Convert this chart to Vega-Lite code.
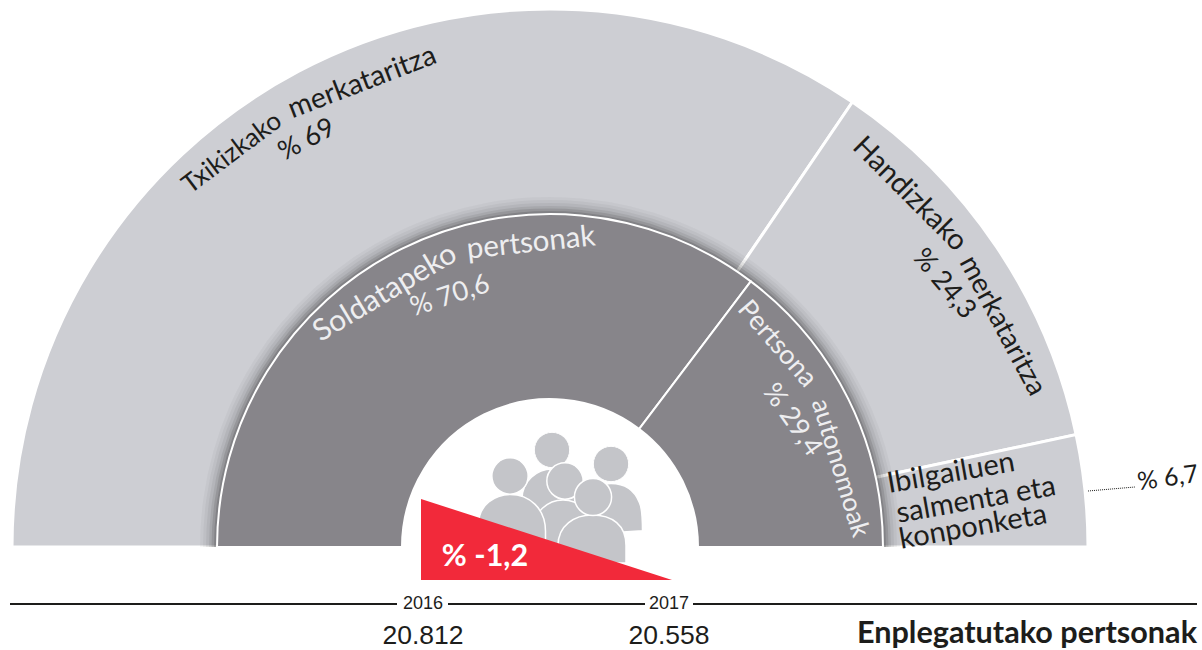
{"$schema":"https://vega.github.io/schema/vega-lite/v6.json","width":1202,"height":650,"padding":0,"autosize":"none","background":"white","view":{"stroke":null},
"resolve":{"scale":{"x":"independent","y":"independent"}},
"config":{"axis":{"disable":true},"style":{
"dk":{"font":"Lato","fontSize":27,"align":"center","baseline":"middle"},
"lt":{"font":"Lato","fontSize":27,"align":"center","baseline":"middle"},
"ins":{"font":"Lato","fontSize":29,"align":"center","baseline":"middle"},
"yr":{"font":"Liberation Sans","fontSize":18,"align":"center","baseline":"middle"},
"num":{"font":"Liberation Sans","fontSize":26.5,"align":"center","baseline":"middle"}}},
"datasets":{"sectors":[{"ring":"Jarduera","label":"Txikizkako merkataritza","pct":69,"ord":1},{"ring":"Jarduera","label":"Handizkako merkataritza","pct":24.3,"ord":2},{"ring":"Jarduera","label":"Ibilgailuen salmenta eta konponketa","pct":6.7,"ord":3},{"ring":"Enplegua","label":"Soldatapeko pertsonak","pct":70.6,"ord":1},{"ring":"Enplegua","label":"Pertsona autonomoak","pct":29.4,"ord":2}]},
"data":{"name":"sectors"},
"transform":[{"stack":"pct","groupby":["ring"],"sort":[{"field":"ord"}],"as":["t0","t1"]}],
"layer":[
{"transform":[{"filter":"datum.ring==='Jarduera'"}],"mark":{"type":"arc","radius":538,"radius2":300,"fill":"#cdced3","stroke":"white","strokeWidth":3},"encoding":{"x":{"datum":550,"scale":{"domain":[0,1202]}},"y":{"datum":547,"scale":{"domain":[650,0]}},"theta":{"field":"t0","type":"quantitative","scale":{"domain":[0,100],"range":[-1.5708,1.5708]}},"theta2":{"field":"t1"}}},
{"transform":[{"filter":"datum.ring==='Enplegua'"}],"mark":{"type":"arc","radius":350,"radius2":148,"fill":"#000","opacity":0.03},"encoding":{"x":{"datum":550,"scale":{"domain":[0,1202]}},"y":{"datum":547,"scale":{"domain":[650,0]}},"theta":{"field":"t0","type":"quantitative","scale":{"domain":[0,100],"range":[-1.5708,1.5708]}},"theta2":{"field":"t1"}}},
{"transform":[{"filter":"datum.ring==='Enplegua'"}],"mark":{"type":"arc","radius":347,"radius2":148,"fill":"#000","opacity":0.04},"encoding":{"x":{"datum":550,"scale":{"domain":[0,1202]}},"y":{"datum":547,"scale":{"domain":[650,0]}},"theta":{"field":"t0","type":"quantitative","scale":{"domain":[0,100],"range":[-1.5708,1.5708]}},"theta2":{"field":"t1"}}},
{"transform":[{"filter":"datum.ring==='Enplegua'"}],"mark":{"type":"arc","radius":344,"radius2":148,"fill":"#000","opacity":0.05},"encoding":{"x":{"datum":550,"scale":{"domain":[0,1202]}},"y":{"datum":547,"scale":{"domain":[650,0]}},"theta":{"field":"t0","type":"quantitative","scale":{"domain":[0,100],"range":[-1.5708,1.5708]}},"theta2":{"field":"t1"}}},
{"transform":[{"filter":"datum.ring==='Enplegua'"}],"mark":{"type":"arc","radius":341,"radius2":148,"fill":"#000","opacity":0.07},"encoding":{"x":{"datum":550,"scale":{"domain":[0,1202]}},"y":{"datum":547,"scale":{"domain":[650,0]}},"theta":{"field":"t0","type":"quantitative","scale":{"domain":[0,100],"range":[-1.5708,1.5708]}},"theta2":{"field":"t1"}}},
{"transform":[{"filter":"datum.ring==='Enplegua'"}],"mark":{"type":"arc","radius":338.5,"radius2":148,"fill":"#000","opacity":0.1},"encoding":{"x":{"datum":550,"scale":{"domain":[0,1202]}},"y":{"datum":547,"scale":{"domain":[650,0]}},"theta":{"field":"t0","type":"quantitative","scale":{"domain":[0,100],"range":[-1.5708,1.5708]}},"theta2":{"field":"t1"}}},
{"transform":[{"filter":"datum.ring==='Enplegua'"}],"mark":{"type":"arc","radius":336,"radius2":148,"fill":"#000","opacity":0.13},"encoding":{"x":{"datum":550,"scale":{"domain":[0,1202]}},"y":{"datum":547,"scale":{"domain":[650,0]}},"theta":{"field":"t0","type":"quantitative","scale":{"domain":[0,100],"range":[-1.5708,1.5708]}},"theta2":{"field":"t1"}}},
{"transform":[{"filter":"datum.ring==='Enplegua'"}],"mark":{"type":"arc","radius":333,"radius2":148,"fill":"#87858a","stroke":"white","strokeWidth":2},"encoding":{"x":{"datum":550,"scale":{"domain":[0,1202]}},"y":{"datum":547,"scale":{"domain":[650,0]}},"theta":{"field":"t0","type":"quantitative","scale":{"domain":[0,100],"range":[-1.5708,1.5708]}},"theta2":{"field":"t1"}}},

{"data":{"values":[{"p":"a"}]},"transform":[],"mark":{"type":"point","filled":true,"opacity":1,"fill":"#c4c5c9","stroke":"white","strokeWidth":1.5,"size":3600,"shape":"M-1,1 L-1,0 C-1,-0.6 -0.5,-1 0,-1 C0.5,-1 1,-0.6 1,0 L1,1 Z"},"encoding":{"x":{"datum":552,"scale":{"domain":[0,1202]}},"y":{"datum":499,"scale":{"domain":[650,0]}}}},
{"data":{"values":[{"p":"a"}]},"transform":[],"mark":{"type":"point","filled":true,"opacity":1,"fill":"#c4c5c9","stroke":"white","strokeWidth":1,"size":1250},"encoding":{"x":{"datum":552,"scale":{"domain":[0,1202]}},"y":{"datum":450,"scale":{"domain":[650,0]}}}},
{"data":{"values":[{"p":"b"}]},"transform":[],"mark":{"type":"point","filled":true,"opacity":1,"fill":"#c4c5c9","stroke":"white","strokeWidth":1.5,"size":3969,"shape":"M-1,0.5 C-1,0.7 -0.8,0.5 -0.6,0.6 L1,0.5 C1,0.4 1,-0.2 0.9,-0.4 C0.7,-0.9 0.3,-1 0,-1 C-0.5,-1 -1,-0.6 -1,0 Z"},"encoding":{"x":{"datum":611,"scale":{"domain":[0,1202]}},"y":{"datum":515,"scale":{"domain":[650,0]}}}},
{"data":{"values":[{"p":"b"}]},"transform":[],"mark":{"type":"point","filled":true,"opacity":1,"fill":"#c4c5c9","stroke":"white","strokeWidth":1,"size":1250},"encoding":{"x":{"datum":611,"scale":{"domain":[0,1202]}},"y":{"datum":464,"scale":{"domain":[650,0]}}}},
{"data":{"values":[{"p":"d"}]},"transform":[],"mark":{"type":"point","filled":true,"opacity":1,"fill":"#c4c5c9","stroke":"white","strokeWidth":1.5,"size":3600,"shape":"M-1,1 L-1,0 C-1,-0.6 -0.5,-1 0,-1 C0.5,-1 1,-0.6 1,0 L1,1 Z"},"encoding":{"x":{"datum":563,"scale":{"domain":[0,1202]}},"y":{"datum":530,"scale":{"domain":[650,0]}}}},
{"data":{"values":[{"p":"d"}]},"transform":[],"mark":{"type":"point","filled":true,"opacity":1,"fill":"#c4c5c9","stroke":"white","strokeWidth":1.5,"size":1320},"encoding":{"x":{"datum":565,"scale":{"domain":[0,1202]}},"y":{"datum":481,"scale":{"domain":[650,0]}}}},
{"data":{"values":[{"p":"c"}]},"transform":[],"mark":{"type":"point","filled":true,"opacity":1,"fill":"#c4c5c9","stroke":"white","strokeWidth":1.5,"size":4489,"shape":"M-1,1 L-1,-0.1 C-1,-0.7 -0.5,-1 -0.05,-1 C0.5,-1 1,-0.6 1,0.1 L1,1 Z"},"encoding":{"x":{"datum":512,"scale":{"domain":[0,1202]}},"y":{"datum":528,"scale":{"domain":[650,0]}}}},
{"data":{"values":[{"p":"c"}]},"transform":[],"mark":{"type":"point","filled":true,"opacity":1,"fill":"#c4c5c9","stroke":"white","strokeWidth":1.5,"size":1320},"encoding":{"x":{"datum":510,"scale":{"domain":[0,1202]}},"y":{"datum":476,"scale":{"domain":[650,0]}}}},
{"data":{"values":[{"p":"e"}]},"transform":[],"mark":{"type":"point","filled":true,"opacity":1,"fill":"#c4c5c9","stroke":"white","strokeWidth":1.5,"size":4624,"shape":"M-1,0.41 L-1,-0.1 C-1,-0.7 -0.5,-1 0,-1 C0.6,-1 1,-0.7 1,-0.1 L1,0.41 Z"},"encoding":{"x":{"datum":592,"scale":{"domain":[0,1202]}},"y":{"datum":549,"scale":{"domain":[650,0]}}}},
{"data":{"values":[{"p":"e"}]},"transform":[],"mark":{"type":"point","filled":true,"opacity":1,"fill":"#c4c5c9","stroke":"white","strokeWidth":1.5,"size":1380},"encoding":{"x":{"datum":593,"scale":{"domain":[0,1202]}},"y":{"datum":497,"scale":{"domain":[650,0]}}}},

{"data":{"values":[{"urtea":2016,"enplegatuak":20812},{"urtea":2017,"enplegatuak":20558}]},"transform":[],"mark":{"type":"area","fill":"#f2293a","opacity":1,"interpolate":"linear"},"encoding":{"x":{"field":"urtea","type":"quantitative","scale":{"domain":[2016,2017],"range":[421,672]}},"y":{"field":"enplegatuak","type":"quantitative","stack":null,"scale":{"domain":[20558,20812],"range":[580,499]}},"y2":{"datum":20558}}},

{"data":{"values":[{"seg":"a"}]},"transform":[],"mark":{"type":"rule","stroke":"#1d1d1b","strokeWidth":2},"encoding":{"x":{"datum":10,"scale":{"domain":[0,1202]}},"x2":{"datum":397},"y":{"datum":604,"scale":{"domain":[650,0]}}}},
{"data":{"values":[{"seg":"b"}]},"transform":[],"mark":{"type":"rule","stroke":"#1d1d1b","strokeWidth":2},"encoding":{"x":{"datum":448,"scale":{"domain":[0,1202]}},"x2":{"datum":645},"y":{"datum":604,"scale":{"domain":[650,0]}}}},
{"data":{"values":[{"seg":"c"}]},"transform":[],"mark":{"type":"rule","stroke":"#1d1d1b","strokeWidth":2},"encoding":{"x":{"datum":693,"scale":{"domain":[0,1202]}},"x2":{"datum":1197},"y":{"datum":604,"scale":{"domain":[650,0]}}}},
{"data":{"values":[{"seg":"d"}]},"transform":[],"mark":{"type":"rule","stroke":"#1d1d1b","strokeWidth":1,"strokeDash":[1,1]},"encoding":{"x":{"datum":1088,"scale":{"domain":[0,1202]}},"x2":{"datum":1135},"y":{"datum":491,"scale":{"domain":[650,0]}},"y2":{"datum":487}}},

{"data":{"values":[{"t":"Txikizkako"}]},"transform":[],"mark":{"type":"text","style":"dk","fill":"#1d1d1b","fontSize":26,"angle":-37},"encoding":{"x":{"datum":232,"scale":{"domain":[0,1202]}},"y":{"datum":153,"scale":{"domain":[650,0]}},"text":{"field":"t"}}},
{"data":{"values":[{"t":"merkataritza"}]},"transform":[],"mark":{"type":"text","style":"dk","fill":"#1d1d1b","fontSize":28.5,"angle":-21},"encoding":{"x":{"datum":362,"scale":{"domain":[0,1202]}},"y":{"datum":82,"scale":{"domain":[650,0]}},"text":{"field":"t"}}},
{"data":{"values":[{"t":"% 69"}]},"transform":[],"mark":{"type":"text","style":"dk","fill":"#1d1d1b","angle":-28},"encoding":{"x":{"datum":307,"scale":{"domain":[0,1202]}},"y":{"datum":140,"scale":{"domain":[650,0]}},"text":{"field":"t"}}},
{"data":{"values":[{"t":"Handizkako"}]},"transform":[],"mark":{"type":"text","style":"dk","fill":"#1d1d1b","fontSize":29,"angle":45},"encoding":{"x":{"datum":910,"scale":{"domain":[0,1202]}},"y":{"datum":194,"scale":{"domain":[650,0]}},"text":{"field":"t"}}},
{"data":{"values":[{"t":"merkataritza"}]},"transform":[],"mark":{"type":"text","style":"dk","fill":"#1d1d1b","fontSize":28,"angle":62},"encoding":{"x":{"datum":1002,"scale":{"domain":[0,1202]}},"y":{"datum":326,"scale":{"domain":[650,0]}},"text":{"field":"t"}}},
{"data":{"values":[{"t":"% 24,3"}]},"transform":[],"mark":{"type":"text","style":"dk","fill":"#1d1d1b","angle":50},"encoding":{"x":{"datum":944,"scale":{"domain":[0,1202]}},"y":{"datum":284,"scale":{"domain":[650,0]}},"text":{"field":"t"}}},
{"data":{"values":[{"t":"Ibilgailuen"}]},"transform":[],"mark":{"type":"text","style":"ins","fill":"#1d1d1b","angle":-10},"encoding":{"x":{"datum":951,"scale":{"domain":[0,1202]}},"y":{"datum":473,"scale":{"domain":[650,0]}},"text":{"field":"t"}}},
{"data":{"values":[{"t":"salmenta eta"}]},"transform":[],"mark":{"type":"text","style":"ins","fill":"#1d1d1b","angle":-10},"encoding":{"x":{"datum":976,"scale":{"domain":[0,1202]}},"y":{"datum":500,"scale":{"domain":[650,0]}},"text":{"field":"t"}}},
{"data":{"values":[{"t":"konponketa"}]},"transform":[],"mark":{"type":"text","style":"ins","fill":"#1d1d1b","angle":-10},"encoding":{"x":{"datum":973,"scale":{"domain":[0,1202]}},"y":{"datum":527,"scale":{"domain":[650,0]}},"text":{"field":"t"}}},
{"data":{"values":[{"t":"% 6,7"}]},"transform":[],"mark":{"type":"text","style":"ins","fill":"#1d1d1b","fontSize":25,"angle":-8},"encoding":{"x":{"datum":1168,"scale":{"domain":[0,1202]}},"y":{"datum":478,"scale":{"domain":[650,0]}},"text":{"field":"t"}}},
{"data":{"values":[{"t":"Soldatapeko"}]},"transform":[],"mark":{"type":"text","style":"lt","fill":"#eeeef0","fontSize":30,"angle":-31},"encoding":{"x":{"datum":385,"scale":{"domain":[0,1202]}},"y":{"datum":293,"scale":{"domain":[650,0]}},"text":{"field":"t"}}},
{"data":{"values":[{"t":"pertsonak"}]},"transform":[],"mark":{"type":"text","style":"lt","fill":"#eeeef0","fontSize":29.5,"angle":-6},"encoding":{"x":{"datum":531,"scale":{"domain":[0,1202]}},"y":{"datum":243,"scale":{"domain":[650,0]}},"text":{"field":"t"}}},
{"data":{"values":[{"t":"% 70,6"}]},"transform":[],"mark":{"type":"text","style":"lt","fill":"#eeeef0","angle":-18},"encoding":{"x":{"datum":450,"scale":{"domain":[0,1202]}},"y":{"datum":296,"scale":{"domain":[650,0]}},"text":{"field":"t"}}},
{"data":{"values":[{"t":"Pertsona"}]},"transform":[],"mark":{"type":"text","style":"lt","fill":"#eeeef0","fontSize":27,"angle":49},"encoding":{"x":{"datum":777,"scale":{"domain":[0,1202]}},"y":{"datum":344,"scale":{"domain":[650,0]}},"text":{"field":"t"}}},
{"data":{"values":[{"t":"autonomoak"}]},"transform":[],"mark":{"type":"text","style":"lt","fill":"#eeeef0","fontSize":26,"angle":73},"encoding":{"x":{"datum":840,"scale":{"domain":[0,1202]}},"y":{"datum":468,"scale":{"domain":[650,0]}},"text":{"field":"t"}}},
{"data":{"values":[{"t":"% 29,4"}]},"transform":[],"mark":{"type":"text","style":"lt","fill":"#eeeef0","angle":55},"encoding":{"x":{"datum":792,"scale":{"domain":[0,1202]}},"y":{"datum":420,"scale":{"domain":[650,0]}},"text":{"field":"t"}}},
{"data":{"values":[{"t":"% -1,2"}]},"transform":[],"mark":{"type":"text","font":"Lato","fontWeight":"bold","fontSize":30.5,"fill":"white","align":"center","baseline":"middle"},"encoding":{"x":{"datum":485,"scale":{"domain":[0,1202]}},"y":{"datum":557,"scale":{"domain":[650,0]}},"text":{"field":"t"}}},
{"data":{"values":[{"t":"2016"}]},"transform":[],"mark":{"type":"text","style":"yr","fill":"#1d1d1b"},"encoding":{"x":{"datum":423,"scale":{"domain":[0,1202]}},"y":{"datum":604,"scale":{"domain":[650,0]}},"text":{"field":"t"}}},
{"data":{"values":[{"t":"2017"}]},"transform":[],"mark":{"type":"text","style":"yr","fill":"#1d1d1b"},"encoding":{"x":{"datum":669,"scale":{"domain":[0,1202]}},"y":{"datum":604,"scale":{"domain":[650,0]}},"text":{"field":"t"}}},
{"data":{"values":[{"t":"20.812"}]},"transform":[],"mark":{"type":"text","style":"num","fill":"#1d1d1b"},"encoding":{"x":{"datum":423,"scale":{"domain":[0,1202]}},"y":{"datum":636,"scale":{"domain":[650,0]}},"text":{"field":"t"}}},
{"data":{"values":[{"t":"20.558"}]},"transform":[],"mark":{"type":"text","style":"num","fill":"#1d1d1b"},"encoding":{"x":{"datum":669,"scale":{"domain":[0,1202]}},"y":{"datum":636,"scale":{"domain":[650,0]}},"text":{"field":"t"}}},
{"data":{"values":[{"t":"Enplegatutako pertsonak"}]},"transform":[],"mark":{"type":"text","font":"Lato","fontWeight":"bold","fontSize":30.6,"fill":"#1d1d1b","align":"right","baseline":"middle"},"encoding":{"x":{"datum":1197,"scale":{"domain":[0,1202]}},"y":{"datum":634,"scale":{"domain":[650,0]}},"text":{"field":"t"}}}
]}
